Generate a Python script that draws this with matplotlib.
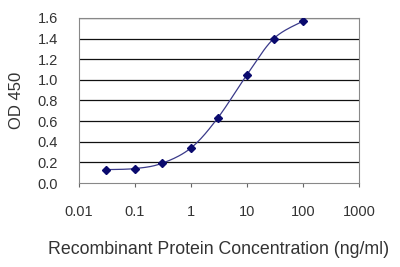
import numpy as np
import matplotlib.pyplot as plt

conc = [0.03, 0.1, 0.3, 1, 3, 10, 30, 100]
od = [0.13, 0.14, 0.19, 0.34, 0.63, 1.05, 1.40, 1.57]
yticks = [0.0, 0.2, 0.4, 0.6, 0.8, 1.0, 1.2, 1.4, 1.6]
xticks = [0.01, 0.1, 1, 10, 100, 1000]
xticklabels = ['0.01', '0.1', '1', '10', '100', '1000']


def smooth(xs, ys, n=20):
    # catmull-rom through the points, in log-x space (like excel smoothed line)
    lx = np.log10(xs)
    ys = np.asarray(ys, dtype=float)
    px = np.concatenate([[lx[0]], lx, [lx[-1]]])
    py = np.concatenate([[ys[0]], ys, [ys[-1]]])
    outx, outy = [], []
    for i in range(1, len(px) - 2):
        t = np.linspace(0, 1, n)
        for arr, out in ((px, outx), (py, outy)):
            p0, p1, p2, p3 = arr[i - 1], arr[i], arr[i + 1], arr[i + 2]
            out.extend(0.5 * ((2 * p1) + (-p0 + p2) * t
                              + (2 * p0 - 5 * p1 + 4 * p2 - p3) * t ** 2
                              + (-p0 + 3 * p1 - 3 * p2 + p3) * t ** 3))
    return 10 ** np.array(outx), np.array(outy)


plt.rcParams['font.family'] = ['Liberation Sans', 'DejaVu Sans']
fig = plt.figure(figsize=(4, 2.67), dpi=100)
ax = fig.add_axes([0.1975, 0.3146, 0.70, 0.618])

for y in yticks[1:]:
    ax.axhline(y, color='#111111', lw=0.9, zorder=1)

sx, sy = smooth(conc, od)
ax.plot(sx, sy, color='#3a3a8a', lw=0.9, zorder=2)
ax.plot(conc, od, ls='none', marker='D', ms=4.5, color='#0a0a6e', zorder=3)

ax.set_xscale('log')
ax.set_xlim(0.01, 1000)
ax.set_ylim(0, 1.6)
ax.set_xticks(xticks)
ax.set_xticklabels(xticklabels)
ax.minorticks_off()
ax.set_yticks(yticks)
ax.set_yticklabels(['%.1f' % v for v in yticks])
ax.tick_params(axis='y', length=0, pad=15, labelsize=10.5, labelcolor='#333333')
ax.tick_params(axis='x', length=3, color='#666666', pad=13, labelsize=10.5, labelcolor='#333333')

for side in ['top', 'right', 'bottom', 'left']:
    ax.spines[side].set_color('#888888')
    ax.spines[side].set_linewidth(0.8)

ax.set_xlabel('Recombinant Protein Concentration (ng/ml)', fontsize=12.8, color='#333333', labelpad=16)
ax.set_ylabel('OD 450', fontsize=12, color='#333333', labelpad=10)

fig.savefig('out.png', dpi=100)
